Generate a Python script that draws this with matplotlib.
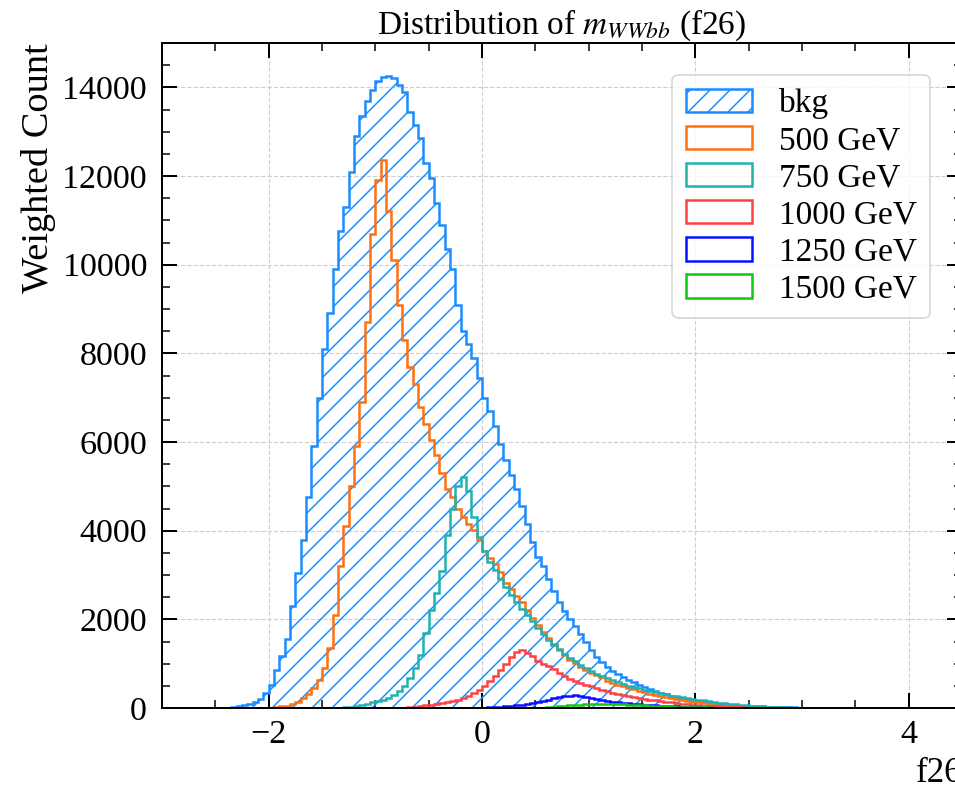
import numpy as np
import matplotlib
matplotlib.use('Agg')
import matplotlib.pyplot as plt
from matplotlib.ticker import MultipleLocator

# Binning of the f26 feature (m_WWbb, standardised)
bin_lo, bin_hi, n_bins = -2.4, 3.1, 110

# Weighted counts per bin
bkg = [10, 30, 45, 60, 90, 130, 200, 330, 530, 850,
       1180, 1550, 2300, 3050, 3800, 4750, 5900, 7000, 8100, 8900,
       9900, 10750, 11300, 12100, 12900, 13350, 13700, 13950, 14150, 14230,
       14250, 14200, 14050, 13900, 13450, 13150, 12850, 12300, 11950, 11400,
       10900, 10350, 9900, 9100, 8500, 8200, 7900, 7450, 7000, 6700,
       6350, 5950, 5600, 5250, 4950, 4550, 4150, 3750, 3400, 3200,
       2900, 2650, 2380, 2180, 2000, 1850, 1670, 1480, 1300, 1150,
       1030, 920, 830, 760, 700, 640, 580, 530, 470, 420,
       380, 340, 305, 275, 250, 225, 200, 175, 155, 135,
       118, 100, 88, 78, 70, 62, 55, 48, 43, 38,
       34, 30, 27, 24, 20, 17, 13, 9, 5, 2]

sig_500 = [0, 0, 0, 0, 0, 0, 0, 0, 10, 20,
           35, 50, 80, 140, 220, 320, 460, 640, 900, 1350,
           2100, 3200, 4100, 5000, 5900, 6900, 8700, 10700, 11900, 12350,
           11200, 10100, 9100, 8300, 7700, 7300, 6800, 6400, 6050, 5700,
           5300, 4950, 4750, 4500, 4300, 4150, 4020, 3800, 3550, 3380,
           3250, 3060, 2830, 2680, 2520, 2380, 2200, 2040, 1880, 1720,
           1580, 1450, 1310, 1190, 1090, 1010, 930, 860, 800, 740,
           690, 620, 570, 530, 490, 455, 420, 380, 350, 320,
           295, 270, 245, 220, 200, 180, 160, 145, 125, 110,
           95, 82, 70, 60, 50, 42, 35, 28, 22, 17,
           12, 8, 5, 3, 2, 0, 0, 0, 0, 0]

sig_750 = [0, 0, 0, 0, 0, 0, 0, 0, 0, 0,
           0, 0, 0, 0, 0, 0, 0, 0, 0, 0,
           0, 10, 20, 30, 50, 70, 100, 130, 160, 190,
           230, 300, 380, 500, 680, 900, 1200, 1700, 2200, 2600,
           3100, 3900, 4500, 5000, 5200, 4900, 4300, 3850, 3550, 3300,
           3120, 2920, 2720, 2540, 2380, 2230, 2100, 1960, 1800, 1660,
           1540, 1430, 1330, 1220, 1130, 1050, 970, 900, 830, 770,
           720, 670, 630, 590, 545, 505, 470, 445, 415, 385,
           360, 335, 305, 280, 265, 250, 232, 210, 190, 172,
           155, 138, 122, 108, 94, 82, 72, 62, 52, 45,
           38, 32, 27, 22, 18, 14, 10, 6, 3, 0]

sig_1000 = [0, 0, 0, 0, 0, 0, 0, 0, 0, 0,
            0, 0, 0, 0, 0, 0, 0, 0, 0, 0,
            0, 0, 0, 0, 0, 0, 0, 0, 0, 0,
            0, 0, 0, 10, 20, 30, 45, 60, 75, 90,
            110, 130, 150, 185, 220, 270, 330, 400, 500, 620,
            730, 850, 1000, 1150, 1260, 1310, 1240, 1170, 1070, 1000,
            940, 870, 790, 720, 660, 610, 560, 520, 485, 450,
            410, 375, 345, 310, 290, 270, 255, 230, 205, 190,
            175, 160, 145, 130, 115, 100, 88, 76, 65, 56,
            48, 40, 34, 28, 22, 17, 12, 8, 5, 3,
            0, 0, 0, 0, 0, 0, 0, 0, 0, 0]

sig_1250 = [0, 0, 0, 0, 0, 0, 0, 0, 0, 0,
            0, 0, 0, 0, 0, 0, 0, 0, 0, 0,
            0, 0, 0, 0, 0, 0, 0, 0, 0, 0,
            0, 0, 0, 0, 0, 0, 0, 0, 0, 0,
            0, 0, 0, 0, 0, 0, 3, 5, 8, 12,
            18, 26, 36, 48, 60, 75, 92, 112, 135, 160,
            190, 215, 240, 262, 280, 285, 270, 250, 225, 200,
            180, 160, 142, 128, 115, 102, 92, 82, 74, 66,
            59, 52, 46, 41, 36, 32, 28, 24, 20, 17,
            14, 11, 9, 7, 5, 3, 2, 0, 0, 0,
            0, 0, 0, 0, 0, 0, 0, 0, 0, 0]

sig_1500 = [0, 0, 0, 0, 0, 0, 0, 0, 0, 0,
            0, 0, 0, 0, 0, 0, 0, 0, 0, 0,
            0, 0, 0, 0, 0, 0, 0, 0, 0, 0,
            0, 0, 0, 0, 0, 0, 0, 0, 0, 0,
            0, 0, 0, 0, 0, 0, 0, 0, 0, 0,
            0, 0, 0, 0, 0, 0, 0, 2, 5, 10,
            18, 28, 38, 48, 58, 66, 74, 80, 85, 88,
            90, 90, 88, 85, 81, 76, 71, 66, 61, 56,
            51, 46, 41, 37, 33, 29, 25, 22, 19, 16,
            13, 11, 9, 7, 5, 4, 3, 2, 1, 0,
            0, 0, 0, 0, 0, 0, 0, 0, 0, 0]

signal_labels = ['500 GeV', '750 GeV', '1000 GeV', '1250 GeV', '1500 GeV']
signal_colors = ['#ff7010', '#20b2b0', '#ff4045', '#0a10ff', '#10c810']
signals = [sig_500, sig_750, sig_1000, sig_1250, sig_1500]

# Style: serif text, inward ticks on all four sides
plt.rcParams.update({
    'font.family': ['Liberation Serif', 'DejaVu Serif'],
    'mathtext.fontset': 'stix',
    'hatch.linewidth': 0.9,
    'axes.linewidth': 1.2,
    'xtick.direction': 'in', 'ytick.direction': 'in',
    'xtick.top': True, 'ytick.right': True,
    'xtick.major.size': 9, 'ytick.major.size': 9,
    'xtick.minor.size': 4.8, 'ytick.minor.size': 4.8,
    'xtick.major.width': 1.2, 'ytick.major.width': 1.2,
    'xtick.minor.width': 0.9, 'ytick.minor.width': 0.9,
    'xtick.major.pad': 7, 'ytick.major.pad': 9,
})

edges = np.linspace(bin_lo, bin_hi, n_bins + 1)
centers = 0.5 * (edges[:-1] + edges[1:])

dpi = 120
fig = plt.figure(figsize=(955 / dpi, 785 / dpi), dpi=dpi)
# the plot area runs a few pixels past the right edge of the canvas
ax = fig.add_axes([162 / 955, 77 / 785, 800 / 955, 665 / 785])

ax.hist(centers, bins=edges, weights=bkg, histtype='stepfilled',
        facecolor='none', edgecolor='#1a8cff', hatch='//', lw=1.5, label='bkg')
for vals, lab, col in zip(signals, signal_labels, signal_colors):
    ax.hist(centers, bins=edges, weights=vals, histtype='step',
            color=col, lw=1.5, label=lab)

ax.set_xlim(-3, 4.5)
ax.set_ylim(0, 15000)
ax.xaxis.set_major_locator(MultipleLocator(2))
ax.xaxis.set_minor_locator(MultipleLocator(0.5))
ax.yaxis.set_major_locator(MultipleLocator(2000))
ax.yaxis.set_minor_locator(MultipleLocator(500))
ax.tick_params(which='both', labelsize=20.5)
ax.grid(True, which='major', ls='--', color='#cfcfcf', lw=0.7)
ax.set_axisbelow(True)

ax.set_xlabel('f26', loc='right', fontsize=21)
ax.set_ylabel('Weighted Count', loc='top', fontsize=23)
ax.set_title(r'Distribution of $m_{WWbb}$ (f26)', fontsize=20, pad=4)

ax.legend(loc='upper right', fontsize=20, borderaxespad=0.95, labelspacing=0.2)

fig.savefig('out.png', dpi=dpi)
